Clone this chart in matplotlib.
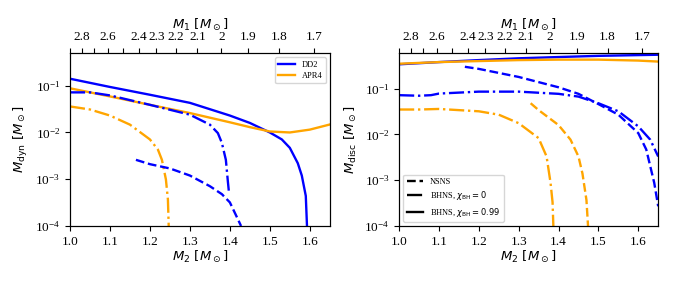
import numpy as np
import matplotlib as mpl
mpl.use('Agg')
import matplotlib.pyplot as plt
from matplotlib.ticker import MultipleLocator

mpl.rcParams['font.family'] = ['Liberation Serif', 'DejaVu Serif']
mpl.rcParams['mathtext.fontset'] = 'dejavusans'
mpl.rcParams['font.size'] = 9.5

# chirp mass fixed for the top axis (M1 <-> M2)
mchirp = 1.44

# --- dynamical ejecta (left) ---
dd2_bh99_m2 = [1.0, 1.1, 1.2, 1.3, 1.4, 1.45, 1.5, 1.53, 1.55, 1.57, 1.58, 1.59, 1.593]
dd2_bh99_dyn = [0.141, 0.094, 0.064, 0.043, 0.023, 0.016, 0.010, 0.0071, 0.0047, 0.0022, 0.0012, 4.4e-4, 1e-4]

apr4_bh99_m2 = [1.0, 1.1, 1.2, 1.3, 1.4, 1.45, 1.5, 1.55, 1.6, 1.65]
apr4_bh99_dyn = [0.088, 0.059, 0.039, 0.026, 0.0165, 0.013, 0.0105, 0.010, 0.0115, 0.0148]

dd2_bh0_m2 = [1.0, 1.05, 1.1, 1.2, 1.3, 1.35, 1.37, 1.38, 1.39, 1.395, 1.398]
dd2_bh0_dyn = [0.072, 0.072, 0.062, 0.039, 0.024, 0.0147, 0.0097, 0.006, 0.0026, 9e-4, 5e-4]

apr4_bh0_m2 = [1.0, 1.05, 1.1, 1.15, 1.2, 1.22, 1.23, 1.24, 1.245, 1.247]
apr4_bh0_dyn = [0.036, 0.031, 0.023, 0.0147, 0.0071, 0.0043, 0.0026, 9.9e-4, 3.7e-4, 1e-4]

dd2_nsns_m2 = [1.165, 1.2, 1.25, 1.3, 1.35, 1.38, 1.4, 1.42, 1.428]
dd2_nsns_dyn = [0.0026, 0.0021, 0.0017, 0.0012, 7.1e-4, 4.8e-4, 3.2e-4, 1.4e-4, 1e-4]

# --- disc mass (right) ---
dd2_bh99_disc_m2 = [1.0, 1.1, 1.2, 1.3, 1.4, 1.5, 1.6, 1.65]
dd2_bh99_disc = [0.34, 0.38, 0.42, 0.46, 0.49, 0.52, 0.54, 0.55]

apr4_bh99_disc_m2 = [1.0, 1.1, 1.2, 1.3, 1.4, 1.5, 1.6, 1.65]
apr4_bh99_disc = [0.35, 0.38, 0.40, 0.42, 0.43, 0.43, 0.41, 0.39]

dd2_nsns_disc_m2 = [1.165, 1.2, 1.3, 1.4, 1.45, 1.5, 1.55, 1.6, 1.62, 1.64, 1.65]
dd2_nsns_disc = [0.30, 0.27, 0.18, 0.107, 0.077, 0.046, 0.027, 0.0107, 0.0047, 8.8e-4, 2.7e-4]

dd2_bh0_disc_m2 = [1.0, 1.05, 1.08, 1.1, 1.2, 1.3, 1.4, 1.45, 1.5, 1.55, 1.6, 1.63, 1.65]
dd2_bh0_disc = [0.072, 0.07, 0.072, 0.078, 0.086, 0.086, 0.077, 0.067, 0.048, 0.032, 0.015, 0.0077, 0.0033]

apr4_bh0_disc_m2 = [1.0, 1.05, 1.1, 1.2, 1.25, 1.3, 1.35, 1.37, 1.38, 1.385, 1.387]
apr4_bh0_disc = [0.035, 0.035, 0.036, 0.032, 0.027, 0.0176, 0.0083, 0.0033, 8.7e-4, 3.3e-4, 1e-4]

apr4_nsns_disc_m2 = [1.33, 1.35, 1.4, 1.43, 1.45, 1.46, 1.47, 1.474]
apr4_nsns_disc = [0.048, 0.034, 0.016, 0.0077, 0.0033, 0.0014, 3.7e-4, 1e-4]

top_ticks = [2.9, 2.8, 2.7, 2.6, 2.5, 2.4, 2.3, 2.2, 2.1, 2.0, 1.9, 1.8, 1.7]
top_labels = ['', '2.8', '', '2.6', '', '2.4', '2.3', '2.2', '2.1', '2', '1.9', '1.8', '1.7']


def partner_mass(m):
    # other mass at fixed chirp mass: m^3 x^3 - Mc^5 x - Mc^5 m = 0
    c5 = mchirp**5
    r = np.roots([m**3, 0.0, -c5, -c5*m])
    r = r[np.abs(r.imag) < 1e-9].real
    return r[r > 0][0]


def add_top(ax):
    top = ax.twiny()
    top.set_xlim(ax.get_xlim())
    pos = [partner_mass(m) for m in top_ticks]
    top.set_xticks(pos)
    top.set_xticklabels(top_labels)
    top.minorticks_off()
    top.set_xlabel(r'$M_1\ [M_\odot]$', labelpad=2)
    return top


blue = '#0000ff'
orange = '#ffa500'
lw = 1.7

fig = plt.figure(figsize=(6.73, 2.85), dpi=100)
ax1 = fig.add_axes([0.104, 0.207, 0.386, 0.607])
ax2 = fig.add_axes([0.593, 0.207, 0.385, 0.607])

ax1.plot(dd2_bh99_m2, dd2_bh99_dyn, color=blue, lw=lw, label='DD2')
ax1.plot(apr4_bh99_m2, apr4_bh99_dyn, color=orange, lw=lw, label='APR4')
ax1.plot(dd2_bh0_m2, dd2_bh0_dyn, color=blue, lw=lw, ls='-.')
ax1.plot(apr4_bh0_m2, apr4_bh0_dyn, color=orange, lw=lw, ls='-.')
ax1.plot(dd2_nsns_m2, dd2_nsns_dyn, color=blue, lw=lw, ls='--')
ax1.set_yscale('log')
ax1.set_xlim(1.0, 1.65)
ax1.set_ylim(1e-4, 0.5)
ax1.xaxis.set_major_locator(MultipleLocator(0.1))
ax1.set_xlabel(r'$M_2\ [M_\odot]$', labelpad=1)
ax1.set_ylabel(r'$M_{\rm dyn}\ [M_\odot]$')
ax1.legend(loc='upper right', fontsize=6, handlelength=2.0, labelspacing=0.4)
add_top(ax1)

ax2.plot(dd2_bh99_disc_m2, dd2_bh99_disc, color=blue, lw=lw)
ax2.plot(apr4_bh99_disc_m2, apr4_bh99_disc, color=orange, lw=lw)
ax2.plot(dd2_bh0_disc_m2, dd2_bh0_disc, color=blue, lw=lw, ls='-.')
ax2.plot(apr4_bh0_disc_m2, apr4_bh0_disc, color=orange, lw=lw, ls='-.')
ax2.plot(dd2_nsns_disc_m2, dd2_nsns_disc, color=blue, lw=lw, ls='--')
ax2.plot(apr4_nsns_disc_m2, apr4_nsns_disc, color=orange, lw=lw, ls='--')
ax2.set_yscale('log')
ax2.set_xlim(1.0, 1.65)
ax2.set_ylim(1e-4, 0.6)
ax2.xaxis.set_major_locator(MultipleLocator(0.1))
ax2.set_xlabel(r'$M_2\ [M_\odot]$', labelpad=1)
ax2.set_ylabel(r'$M_{\rm disc}\ [M_\odot]$')
ax2.plot([], [], color='k', lw=lw, ls='--', label='NSNS')
ax2.plot([], [], color='k', lw=lw, ls='-.', label=r'BHNS, $\chi_{\rm BH}=0$')
ax2.plot([], [], color='k', lw=lw, ls='-', label=r'BHNS, $\chi_{\rm BH}=0.99$')
ax2.legend(loc='lower left', fontsize=6, handlelength=2.0, labelspacing=0.4)
add_top(ax2)

fig.savefig('out.png', dpi=100)
